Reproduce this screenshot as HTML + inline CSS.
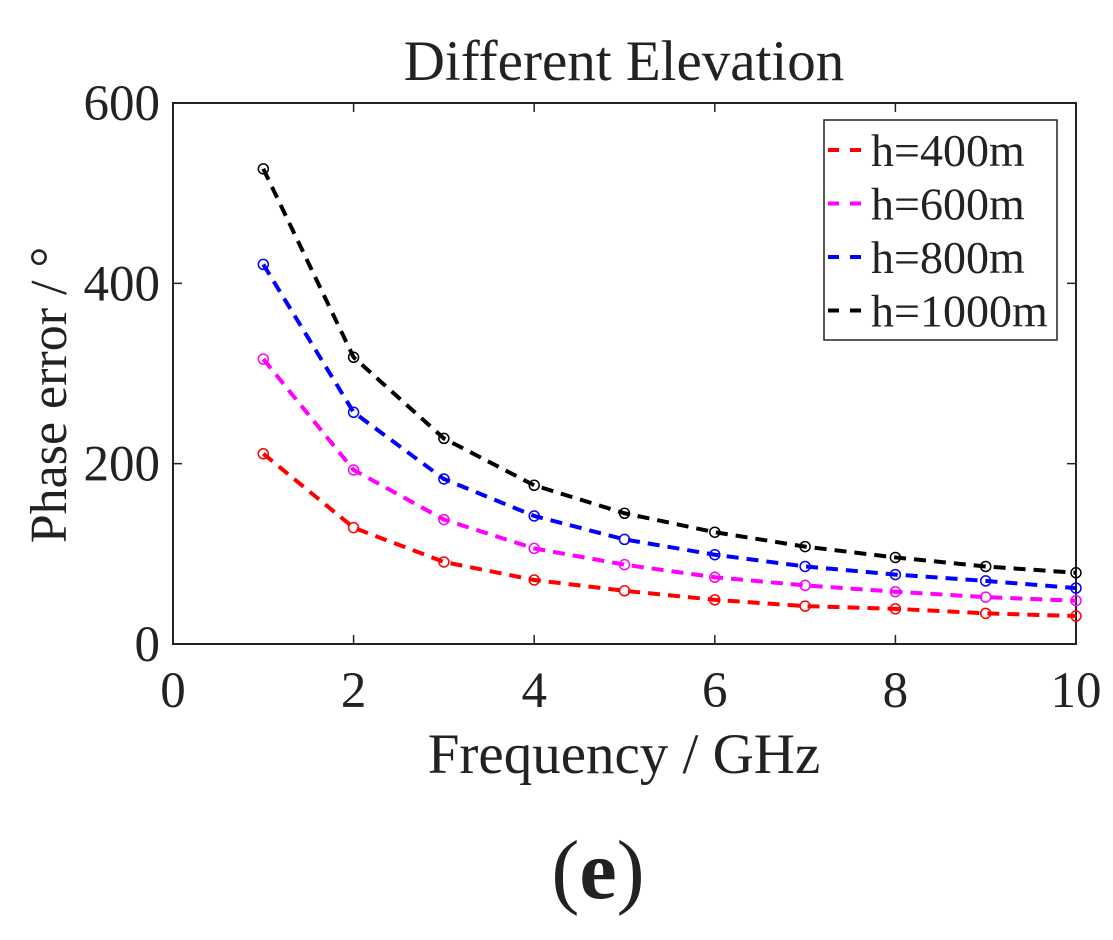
<!DOCTYPE html>
<html><head><meta charset="utf-8"><style>
body{margin:0;background:#fff;}
svg text{font-family:"Liberation Serif",serif;fill:#222;}
</style></head><body>
<svg id="chart" width="1113" height="935" xmlns="http://www.w3.org/2000/svg">
<text x="624" y="80" font-size="57" text-anchor="middle">Different Elevation</text>
<rect x="173" y="103" width="903" height="541" fill="none" stroke="#222" stroke-width="2"/>
<g id="ticks"></g>
<g id="series"></g>
<text x="624" y="773" font-size="57" text-anchor="middle">Frequency / GHz</text>
<text transform="translate(66,395) rotate(-90)" font-size="52" text-anchor="middle">Phase error / °</text>
<text x="598" y="898" font-size="84" text-anchor="middle">(<tspan font-weight="bold">e</tspan>)</text>
<g>
<rect x="824" y="120" width="233" height="220" fill="#fff" stroke="#222" stroke-width="1.5"/>
<g id="legend"></g>
</g>
</svg>
<script>
const freqs=[1,2,3,4,5,6,7,8,9,10];
const h400=[211,129,91,71,59,49,42,39,34,31];
const h600=[316,193,138,106,88,74,65,58,52,48];
const h800=[421,257,183,142,116,99,86,77,70,62];
const h1000=[527,318,228,176,145,124,108,96,86,79];
const seriesNames=["h=400m","h=600m","h=800m","h=1000m"];
const seriesColors=["#ff0000","#ff00ff","#0000ff","#000000"];
const xTicks=[0,2,4,6,8,10];
const yTicks=[0,200,400,600];
const NS="http://www.w3.org/2000/svg";
const X=v=>173+v*90.3, Y=v=>644-v*541/600;
function mk(t,a,p){const e=document.createElementNS(NS,t);for(const k in a)e.setAttribute(k,a[k]);p.appendChild(e);return e;}
const tg=document.getElementById('ticks');
xTicks.forEach(v=>{
 const l=mk('line',{x1:X(v),x2:X(v),y1:644,y2:635,stroke:'#222','stroke-width':1.5},tg);
 
 
 const l2=mk('line',{x1:X(v),x2:X(v),y1:103,y2:112,stroke:'#222','stroke-width':1.5},tg);
 
 
 const t=mk('text',{x:X(v),y:707,'font-size':51,'text-anchor':'middle'},tg);t.textContent=v;
 
 
});
yTicks.forEach(v=>{
 const l=mk('line',{x1:173,x2:182,y1:Y(v),y2:Y(v),stroke:'#222','stroke-width':1.5},tg);
 
 
 const l2=mk('line',{x1:1076,x2:1067,y1:Y(v),y2:Y(v),stroke:'#222','stroke-width':1.5},tg);
 
 
 const t=mk('text',{x:160,y:Y(v)+17,'font-size':51,'text-anchor':'end'},tg);t.textContent=v;
 
 
});
const sg=document.getElementById('series');
const lg=document.getElementById('legend');
[h400,h600,h800,h1000].forEach((d,i)=>{
 const c=seriesColors[i];
 const p=mk('polyline',{points:d.map((v,j)=>X(freqs[j])+','+Y(v)).join(' '),fill:'none',stroke:c,'stroke-width':4,'stroke-dasharray':'12 8'},sg);
 
 
 d.forEach((v,j)=>{
  const m=mk('circle',{cx:X(freqs[j]),cy:Y(v),r:5,fill:'none',stroke:c,'stroke-width':1.5},sg);
  
  
 });
 const y=150+i*53.5;
 const ll=mk('line',{x1:828,x2:862,y1:y,y2:y,stroke:c,'stroke-width':4,'stroke-dasharray':'11 11'},lg);
 
 
 const lt=mk('text',{x:871,y:y+16,'font-size':46},lg);lt.textContent=seriesNames[i];
 
 
});
</script>
</body></html>
